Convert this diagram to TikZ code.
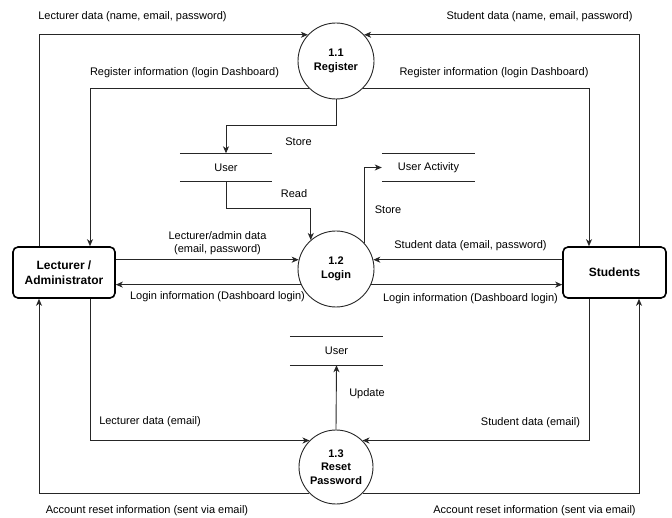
\documentclass[tikz,border=0pt]{standalone}
\usepackage{fontspec}
\setmainfont{Liberation Sans}
\usetikzlibrary{arrows.meta,calc}

\tikzset{
  flow/.style={draw=black!85, line width=0.9pt,
    -{Stealth[length=7pt,width=6pt,inset=2pt]}},
  proc/.style={circle, draw=black!85, line width=0.9pt, fill=white,
    inner sep=0pt, align=center,
    font=\bfseries\fontsize{11}{13.5}\selectfont},
  entity/.style={rectangle, rounded corners=5pt, draw=black, line width=1.6pt,
    fill=white, align=center, inner sep=0pt, minimum height=51pt,
    font=\bfseries\fontsize{12}{15}\selectfont},
  store/.style={rectangle, inner sep=0pt, minimum height=28pt,
    font=\fontsize{11}{13}\selectfont},
  storeline/.style={draw=black!85, line width=0.9pt},
  lbl/.style={inner sep=0pt, align=center, font=\fontsize{11}{13}\selectfont}
}

\begin{document}
\begin{tikzpicture}[x=1pt, y=-1pt]
  \useasboundingbox (0,0) rectangle (672,518);

  % processes
  \node[proc, minimum size=76pt] (reg)   at (336,61)  {1.1\\Register};
  \node[proc, minimum size=76pt] (login) at (336,269) {1.2\\Login};
  \node[proc, minimum size=74pt] (reset) at (336,467) {1.3\\Reset\\Password};

  % external entities
  \node[entity, minimum width=102pt] (lect) at (64,272.5)   {Lecturer /\\Administrator};
  \node[entity, minimum width=103pt] (stud) at (614.5,272.5) {Students};

  % data stores
  \node[store, minimum width=92pt] (user1) at (226,167.5)   {User};
  \node[store, minimum width=93pt] (act)   at (428.5,167.5) {User Activity};
  \node[store, minimum width=93pt] (user2) at (336.5,351)   {User};
  \foreach \s in {user1,act,user2}{
    \draw[storeline] (\s.north west) -- (\s.north east);
    \draw[storeline] (\s.south west) -- (\s.south east);
  }

  % registration flows
  \draw[flow] ([xshift=-25pt]lect.north) |- (reg.137);
  \draw[flow] (reg.225) -| ([xshift=26pt]lect.north);
  \draw[flow] ([xshift=24.5pt]stud.north) |- (reg.43);
  \draw[flow] (reg.-45) -| ([xshift=-25.5pt]stud.north);
  \draw[flow] (reg.south) -- ++(0,26) -| (user1.north);

  % login flows
  \draw[flow] (user1.south) -- ++(0,27) -| (login.131);
  \draw[flow] (login.42.5) |- (act.west);
  \draw[flow] (lect.east |- login.166) -- (login.166);
  \draw[flow] (login.204) -- (lect.east |- login.204);
  \draw[flow] (stud.west |- login.14) -- (login.14);
  \draw[flow] (login.-24) -- (stud.west |- login.-24);

  % reset flows
  \draw[flow] ([xshift=26pt]lect.south) |- (reset.135);
  \draw[flow] (reset.224) -| ([xshift=-25pt]lect.south);
  \draw[flow] ([xshift=-25.5pt]stud.south) |- (reset.45);
  \draw[flow] (reset.-44) -| ([xshift=24.5pt]stud.south);
  \draw[flow] (reset.north) -- (user2.south);

  % flow labels
  \node[lbl] (t1)  at (132.5,17)  {Lecturer data (name, email, password)};
  \node[lbl] (t2)  at (539.5,17)  {Student data (name, email, password)};
  \node[lbl] (t3)  at (184.5,73)  {Register information (login Dashboard)};
  \node[lbl] (t4)  at (494,73)    {Register information (login Dashboard)};
  \node[lbl] (t5)  at (298.5,142) {Store};
  \node[lbl] (t6)  at (294,194)   {Read};
  \node[lbl] (t7)  at (388,210)   {Store};
  \node[lbl] (t8)  at (217.5,243) {Lecturer/admin data\\(email, password)};
  \node[lbl] (t9)  at (217.5,297) {Login information (Dashboard login)};
  \node[lbl] (t10) at (470.5,246) {Student data (email, password)};
  \node[lbl] (t11) at (470.5,299) {Login information (Dashboard login)};
  \node[lbl] (t12) at (150,422)   {Lecturer data (email)};
  \node[lbl] (t13) at (147,511)   {Account reset information (sent via email)};
  \node[lbl] (t14) at (530.5,423) {Student data (email)};
  \node[lbl] (t15) at (534.5,511) {Account reset information (sent via email)};
  \node[lbl] (t16) at (367,394)   {Update};
\end{tikzpicture}
\end{document}
